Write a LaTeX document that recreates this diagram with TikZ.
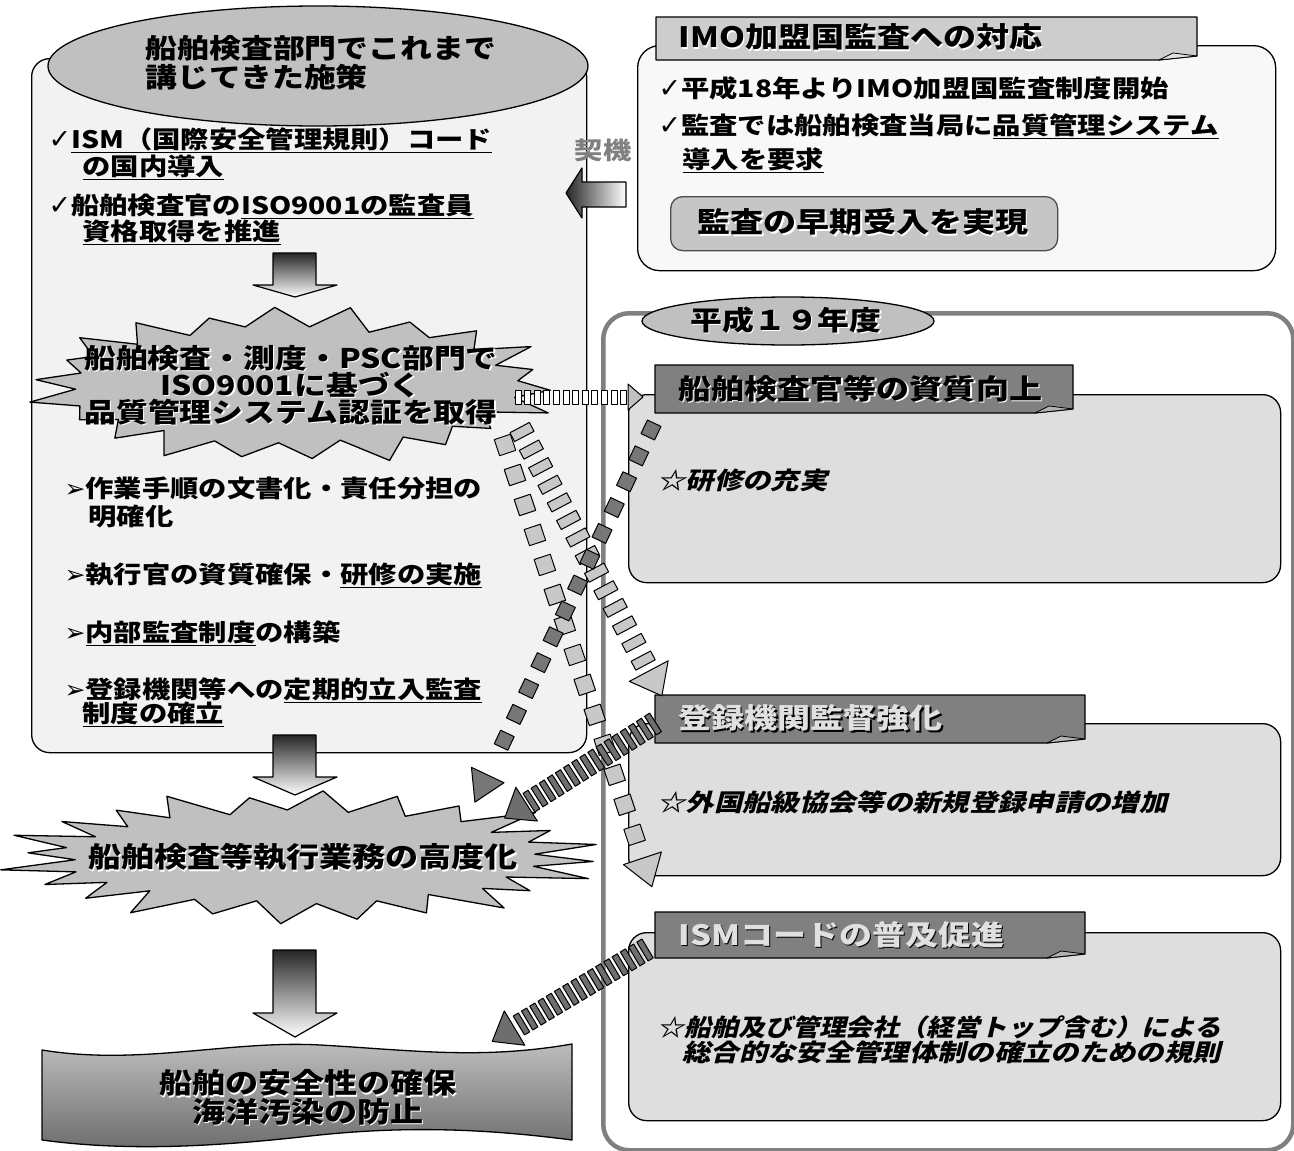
\documentclass[tikz,border=0pt]{standalone}
\usepackage{fontspec}
\setmainfont{Noto Sans CJK JP}[FakeStretch=1.18]
\newfontfamily\jpit{Noto Sans CJK JP}[FakeStretch=1.18, FakeSlant=0.25]
\newfontfamily\symf{DejaVu Sans}
\usetikzlibrary{decorations.markings, shapes.geometric}
\definecolor{cyl}{HTML}{F2F2F2}
\definecolor{midg}{HTML}{C0C0C0}
\definecolor{boxg}{HTML}{DEDEDE}
\definecolor{tabg}{HTML}{808080}
\definecolor{tabl}{HTML}{CDCDCD}
\definecolor{imobg}{HTML}{F8F8F8}
\definecolor{sqd}{HTML}{777777}
\definecolor{sql}{HTML}{C8C8C8}
\definecolor{strp}{HTML}{6E6E6E}
\newcommand\ck{{\symf\mdseries\fontsize{27}{27}\selectfont ✓}}
\newcommand\tri{{\symf\mdseries\fontsize{25}{25}\selectfont ➢}}
\newcommand\emb[3]{\leavevmode\rlap{\hspace{1.3pt}\raisebox{-1.3pt}{\color{#2}#3}}{\color{#1}#3}}
\newcommand\fH{\fontsize{27}{28}\selectfont}
\newcommand\fB{\fontsize{24}{27}\selectfont}
\newcommand\fT{\fontsize{28}{28}\selectfont}
% starburst: cx cy ao bo ai bi n lastindex seed
\newcommand\burst[9]{%
  \filldraw[fill=midg, line width=1.3pt] plot[samples at={0,...,#8}, variable=\k]
   ({#1+ifthenelse(mod(\k,2)==0,#3*(1+0.06*sin(\k*#9)),#5*(1+0.03*cos(\k*#9)))*cos(\k*180/#7+4)},
    {#2+ifthenelse(mod(\k,2)==0,#4*(1+0.06*sin(\k*#9)),#6*(1+0.03*cos(\k*#9)))*sin(\k*180/#7+4)}) -- cycle;}
% tab: L T R B fill
\newcommand\tabshape[5]{%
  \filldraw[fill=#5, line width=1.2pt] (#1,#2) -- (#3,#2) -- (#3,#4-4) -- (#3-38,#4) -- (#1,#4) -- cycle;
  \filldraw[fill=#5!60!white, line width=0.8pt] (#3-38,#4) -- (#3-24,#4-7) -- (#3,#4-4) -- cycle;}
\begin{document}
\begin{tikzpicture}[x=1pt,y=-1pt,line width=1.3pt,line join=round,font=\bfseries,
  txt/.style={inner sep=0pt, anchor=west},
  ctr/.style={inner sep=0pt, align=center},
  boxst/.style={draw, fill=boxg, rounded corners=18pt, minimum width=652pt, anchor=north west, inner sep=0pt},
  sqmark/.style n args={4}{decoration={markings,
     mark=between positions 0 and 1 step #1 with {\filldraw[fill=#4, line width=1pt] (-#2,-#3) rectangle (#2,#3);}}, decorate},
  headmark/.style n args={4}{decoration={markings,
     mark=at position 1 with {\filldraw[fill=#4, line width=1pt] (#1,-#2) -- (#3,0) -- (#1,#2) -- cycle;}}, decorate}]
\useasboundingbox (0,0) rectangle (1294,1151);
\fill[white] (0,0) rectangle (1294,1151);

% ---------- right panel ----------
\node (panel) [draw=tabg, line width=4.5pt, rounded corners=26pt, minimum width=690pt, minimum height=837pt, anchor=north west, inner sep=0pt] at (601,311) {};
\node (yr) [ellipse, draw, fill=midg, minimum width=292pt, minimum height=48pt, inner sep=0pt] at (788,321) {};
\node (yrt) [ctr] at (786,321) {\fH\emb{black}{white}{平成１９年度}};

\node (bx1) [boxst, minimum height=188pt] at (628,394) {};
\node (bx2) [boxst, minimum height=152pt] at (628,723) {};
\node (bx3) [boxst, minimum height=188pt] at (628,932) {};

\tabshape{655}{365}{1073}{413}{tabg}
\node (t1) [txt] at (678,389) {\fT\emb{black}{white}{船舶検査官等の資質向上}};
\tabshape{655}{695}{1085}{743}{tabg}
\node (t2) [txt] at (678,719) {\fT\emb{white!88!black}{black}{登録機関監督強化}};
\tabshape{655}{912}{1085}{958}{tabg}
\node (t3) [txt] at (678,935) {\fT\emb{white!88!black}{black}{ISMコードの普及促進}};

\node (s1) [txt] at (657,480) {\jpit\fB ☆研修の充実};
\node (s2) [txt] at (657,802) {\jpit\fB ☆外国船級協会等の新規登録申請の増加};
\node (s3a) [txt] at (657,1027) {\jpit\fB\scalebox{0.95}[1]{☆船舶及び管理会社（経営トップ含む）による}};
\node (s3b) [txt] at (682,1052) {\jpit\fB 総合的な安全管理体制の確立のための規則};

% ---------- IMO box ----------
\node (imo) [draw, fill=imobg, rounded corners=22pt, minimum width=638pt, minimum height=225pt, anchor=north west, inner sep=0pt] at (637,45) {};
\tabshape{656}{17}{1197}{60}{tabl}
\node (imoh) [txt] at (678,38) {\fT\emb{black}{white}{IMO加盟国監査への対応}};
\node (i1) [txt] at (658,88) {\fB\ck 平成18年よりIMO加盟国監査制度開始};
\node (i2) [txt] at (658,126) {\fB\ck 監査では船舶検査当局に\underline{品質管理システム}};
\node (i3) [txt] at (682,160) {\fB\underline{導入を要求}};
\node (early) [draw=black!70, fill=midg!90!white, rounded corners=12pt, minimum width=387pt, minimum height=54pt, anchor=north west, inner sep=0pt] at (670,196) {};
\node (earlyt) [ctr] at (863,223) {\fT\emb{black}{white}{監査の早期受入を実現}};

% ---------- left column ----------
\node (cylb) [draw, fill=cyl, rounded corners=18pt, minimum width=555pt, minimum height=694pt, anchor=north west, inner sep=0pt] at (31,58) {};
\node (cylt) [ellipse, draw, fill=midg, minimum width=540pt, minimum height=120pt, inner sep=0pt] at (318,66) {};
\node (h1) [txt] at (145,48) {\fH 船舶検査部門でこれまで};
\node (h2) [txt] at (145,77) {\fH 講じてきた施策};

\node (b1a) [txt] at (48,140) {\fB\ck\underline{ISM（国際安全管理規則）コード}};
\node (b1b) [txt] at (82,167) {\fB\underline{の国内導入}};
\node (b2a) [txt] at (48,206) {\fB\ck 船舶検査官の\underline{ISO9001の監査員}};
\node (b2b) [txt] at (82,232) {\fB\underline{資格取得を推進}};

\shadedraw[top color=black!85, bottom color=white, line width=1.2pt] (273,253) -- (316,253) -- (316,285) -- (337,285) -- (295,297) -- (253,285) -- (273,285) -- cycle;

\burst{294}{385}{257}{76}{222}{58}{22}{43}{57}
\node (sb1) [ctr, font=\bfseries\fH] at (291,386) {\emb{black}{white}{船舶検査・測度・PSC部門で}\\[-1pt]\emb{black}{white}{ISO9001に基づく}\\[-1pt]\emb{black}{white}{品質管理システム認証を取得}};

\node (c1a) [txt] at (64,488) {\fB\tri 作業手順の文書化・責任分担の};
\node (c1b) [txt] at (88,516) {\fB 明確化};
\node (c2) [txt] at (64,575) {\fB\tri 執行官の資質確保・\underline{研修の実施}};
\node (c3) [txt] at (64,633) {\fB\tri\underline{内部監査制度}の構築};
\node (c4a) [txt] at (64,690) {\fB\tri 登録機関等への\underline{定期的立入監査}};
\node (c4b) [txt] at (82,714) {\fB\underline{制度の確立}};

\shadedraw[top color=black!85, bottom color=white, line width=1.2pt] (273,735) -- (316,735) -- (316,777) -- (337,777) -- (295,795) -- (253,777) -- (273,777) -- cycle;

\burst{302}{857}{292}{64}{234}{46}{24}{47}{71}
\node (sb2) [ctr] at (303,858) {\fT\emb{black}{white}{船舶検査等執行業務の高度化}};

\shadedraw[top color=black!85, bottom color=white, line width=1.2pt] (273,950) -- (316,950) -- (316,1013) -- (337,1013) -- (295,1037) -- (253,1013) -- (273,1013) -- cycle;

\shadedraw[top color=black!25, bottom color=black!58, line width=1.3pt]
  (42,1050) .. controls (140,1066) and (230,1040) .. (320,1045) .. controls (410,1050) and (480,1060) .. (572,1044)
  -- (572,1140) .. controls (480,1128) and (400,1126) .. (310,1136) .. controls (220,1146) and (130,1152) .. (42,1140) -- cycle;
\node (wv) [ctr, font=\bfseries\fT] at (308,1098) {\emb{black}{white}{船舶の安全性の確保}\\[-1pt]\emb{black}{white}{海洋汚染の防止}};

% ---------- trigger label and arrow ----------
\node (kk) [ctr, text=black!50] at (603,150) {\fB 契機};
\shadedraw[left color=black!85, right color=white, line width=1.2pt] (566,193) -- (582,168) -- (582,182) -- (626,182) -- (626,207) -- (582,207) -- (582,218) -- cycle;

% ---------- connectors ----------
\coordinate (aS) at (518,397); \coordinate (aE) at (628,397);
\path[sqmark={9.6pt}{3}{7}{white}] (aS) -- (aE);
\path[headmark={0}{13}{15}{midg}] (aS) -- (aE);

\coordinate (cS) at (522,432); \coordinate (cE) at (645,664);
\path[sqmark={19.9pt}{5}{11}{sql}] (cS) -- (cE);
\path[headmark={8}{22}{36}{sql}] (cS) -- (cE);

\coordinate (dS) at (505,445); \coordinate (dE) at (638,845);
\path[sqmark={31.6pt}{8.5}{8.5}{sql}] (dS) -- (dE);
\path[headmark={14}{20}{44}{sql}] (dS) -- (dE);

\coordinate (bS) at (651,430); \coordinate (bE) at (492,766);
\path[sqmark={28.6pt}{7.5}{7.5}{sqd}] (bS) -- (bE);
\path[headmark={10}{18}{40}{sqd}] (bS) -- (bE);

\coordinate (eS) at (653,724); \coordinate (eE) at (530,802);
\path[sqmark={9.6pt}{3}{11}{strp}] (eS) -- (eE);
\path[headmark={4}{20}{30}{strp}] (eS) -- (eE);

\coordinate (fS) at (645,950); \coordinate (fE) at (518,1026);
\path[sqmark={9.6pt}{3}{11}{strp}] (fS) -- (fE);
\path[headmark={4}{20}{30}{strp}] (fS) -- (fE);
\end{tikzpicture}
\end{document}
